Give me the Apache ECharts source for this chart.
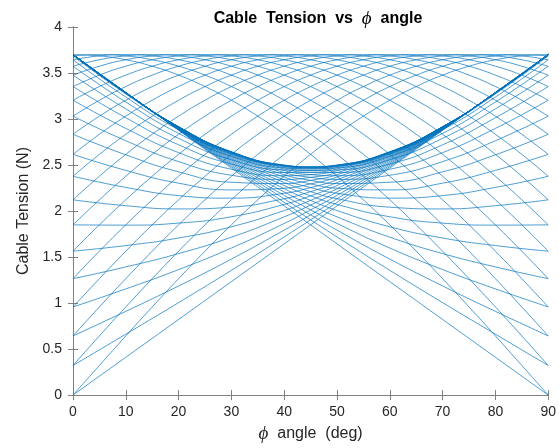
<!DOCTYPE html>
<html><head><meta charset="utf-8">
<script src="https://cdn.jsdelivr.net/npm/echarts@6/dist/echarts.min.js"></script>
<style>html,body{margin:0;padding:0;background:#fff}#c{width:559px;height:448px}</style>
</head><body><div id="c"></div>
<script>
// phi sample points (deg)
const phi5 = [0,5,10,15,20,25,30,35,40,45,50,55,60,65,70,75,80,85,90];
const phiPQ = [0,10,20,30,40,45,50,60,70,80,90];

// family B: cosine-shaped curves peaking at 3.7 N
const B0 = [3.700,3.686,3.644,3.574,3.477,3.353,3.204,3.031,2.834,2.616,2.378,2.122,1.850,1.564,1.265,0.958,0.643,0.322,0.000];
const B1 = [3.686,3.700,3.686,3.644,3.574,3.477,3.353,3.204,3.031,2.834,2.616,2.378,2.122,1.850,1.564,1.265,0.958,0.643,0.322];
const B2 = [3.644,3.686,3.700,3.686,3.644,3.574,3.477,3.353,3.204,3.031,2.834,2.616,2.378,2.122,1.850,1.564,1.265,0.958,0.643];
const B3 = [3.574,3.644,3.686,3.700,3.686,3.644,3.574,3.477,3.353,3.204,3.031,2.834,2.616,2.378,2.122,1.850,1.564,1.265,0.958];
const B4 = [3.477,3.574,3.644,3.686,3.700,3.686,3.644,3.574,3.477,3.353,3.204,3.031,2.834,2.616,2.378,2.122,1.850,1.564,1.265];
const B5 = [3.353,3.477,3.574,3.644,3.686,3.700,3.686,3.644,3.574,3.477,3.353,3.204,3.031,2.834,2.616,2.378,2.122,1.850,1.564];
const B6 = [3.204,3.353,3.477,3.574,3.644,3.686,3.700,3.686,3.644,3.574,3.477,3.353,3.204,3.031,2.834,2.616,2.378,2.122,1.850];
const B7 = [3.031,3.204,3.353,3.477,3.574,3.644,3.686,3.700,3.686,3.644,3.574,3.477,3.353,3.204,3.031,2.834,2.616,2.378,2.122];
const B8 = [2.834,3.031,3.204,3.353,3.477,3.574,3.644,3.686,3.700,3.686,3.644,3.574,3.477,3.353,3.204,3.031,2.834,2.616,2.378];
const B9 = [2.616,2.834,3.031,3.204,3.353,3.477,3.574,3.644,3.686,3.700,3.686,3.644,3.574,3.477,3.353,3.204,3.031,2.834,2.616];
const B10 = [2.378,2.616,2.834,3.031,3.204,3.353,3.477,3.574,3.644,3.686,3.700,3.686,3.644,3.574,3.477,3.353,3.204,3.031,2.834];
const B11 = [2.122,2.378,2.616,2.834,3.031,3.204,3.353,3.477,3.574,3.644,3.686,3.700,3.686,3.644,3.574,3.477,3.353,3.204,3.031];
const B12 = [1.850,2.122,2.378,2.616,2.834,3.031,3.204,3.353,3.477,3.574,3.644,3.686,3.700,3.686,3.644,3.574,3.477,3.353,3.204];
const B13 = [1.564,1.850,2.122,2.378,2.616,2.834,3.031,3.204,3.353,3.477,3.574,3.644,3.686,3.700,3.686,3.644,3.574,3.477,3.353];
const B14 = [1.265,1.564,1.850,2.122,2.378,2.616,2.834,3.031,3.204,3.353,3.477,3.574,3.644,3.686,3.700,3.686,3.644,3.574,3.477];
const B15 = [0.958,1.265,1.564,1.850,2.122,2.378,2.616,2.834,3.031,3.204,3.353,3.477,3.574,3.644,3.686,3.700,3.686,3.644,3.574];
const B16 = [0.643,0.958,1.265,1.564,1.850,2.122,2.378,2.616,2.834,3.031,3.204,3.353,3.477,3.574,3.644,3.686,3.700,3.686,3.644];
const B17 = [0.322,0.643,0.958,1.265,1.564,1.850,2.122,2.378,2.616,2.834,3.031,3.204,3.353,3.477,3.574,3.644,3.686,3.700,3.686];
const B18 = [0.000,0.322,0.643,0.958,1.265,1.564,1.850,2.122,2.378,2.616,2.834,3.031,3.204,3.353,3.477,3.574,3.644,3.686,3.700];

// family P: curves rising to 3.7 N at 90 deg
const P0  = [3.700,3.283,2.916,2.643,2.499,2.480,2.499,2.643,2.916,3.283,3.700];
const P5  = [3.686,3.272,2.908,2.638,2.495,2.478,2.497,2.643,2.916,3.283,3.700];
const P10 = [3.644,3.239,2.884,2.622,2.486,2.470,2.492,2.641,2.915,3.283,3.700];
const P15 = [3.574,3.185,2.844,2.595,2.469,2.459,2.483,2.637,2.915,3.283,3.700];
const P20 = [3.477,3.110,2.790,2.558,2.447,2.442,2.472,2.633,2.914,3.283,3.700];
const P25 = [3.353,3.014,2.720,2.511,2.419,2.421,2.457,2.627,2.912,3.284,3.700];
const P30 = [3.204,2.898,2.635,2.454,2.384,2.396,2.439,2.620,2.911,3.284,3.700];
const P35 = [3.031,2.764,2.537,2.389,2.344,2.366,2.418,2.612,2.909,3.284,3.700];
const P40 = [2.834,2.611,2.426,2.313,2.299,2.333,2.395,2.602,2.907,3.284,3.700];
const P45 = [2.616,2.442,2.303,2.230,2.248,2.295,2.369,2.592,2.905,3.285,3.700];
const P50 = [2.378,2.257,2.168,2.140,2.193,2.255,2.340,2.580,2.902,3.285,3.700];
const P55 = [2.122,2.058,2.023,2.042,2.134,2.211,2.310,2.568,2.900,3.285,3.700];
const P60 = [1.850,1.847,1.869,1.938,2.072,2.165,2.277,2.555,2.897,3.286,3.700];
const P65 = [1.564,1.625,1.707,1.829,2.005,2.116,2.243,2.541,2.894,3.286,3.700];
const P70 = [1.265,1.393,1.538,1.716,1.937,2.065,2.207,2.527,2.891,3.287,3.700];
const P75 = [0.958,1.154,1.364,1.598,1.865,2.013,2.170,2.512,2.888,3.287,3.700];
const P80 = [0.643,0.910,1.186,1.478,1.793,1.959,2.133,2.497,2.884,3.288,3.700];
const P85 = [0.322,0.662,1.005,1.356,1.719,1.905,2.094,2.482,2.881,3.288,3.700];
const P90 = [0.000,0.411,0.822,1.233,1.644,1.850,2.056,2.467,2.878,3.289,3.700];

// family Q: curves starting at 3.7 N at 0 deg
const Q0  = [3.700,3.283,2.916,2.643,2.499,2.480,2.499,2.643,2.916,3.283,3.700];
const Q5  = [3.700,3.283,2.916,2.643,2.497,2.478,2.495,2.638,2.908,3.272,3.686];
const Q10 = [3.700,3.283,2.915,2.641,2.492,2.470,2.486,2.622,2.884,3.239,3.644];
const Q15 = [3.700,3.283,2.915,2.637,2.483,2.459,2.469,2.595,2.844,3.185,3.574];
const Q20 = [3.700,3.283,2.914,2.633,2.472,2.442,2.447,2.558,2.790,3.110,3.477];
const Q25 = [3.700,3.284,2.912,2.627,2.457,2.421,2.419,2.511,2.720,3.014,3.353];
const Q30 = [3.700,3.284,2.911,2.620,2.439,2.396,2.384,2.454,2.635,2.898,3.204];
const Q35 = [3.700,3.284,2.909,2.612,2.418,2.366,2.344,2.389,2.537,2.764,3.031];
const Q40 = [3.700,3.284,2.907,2.602,2.395,2.333,2.299,2.313,2.426,2.611,2.834];
const Q45 = [3.700,3.285,2.905,2.592,2.369,2.295,2.248,2.230,2.303,2.442,2.616];
const Q50 = [3.700,3.285,2.902,2.580,2.340,2.255,2.193,2.140,2.168,2.257,2.378];
const Q55 = [3.700,3.285,2.900,2.568,2.310,2.211,2.134,2.042,2.023,2.058,2.122];
const Q60 = [3.700,3.286,2.897,2.555,2.277,2.165,2.072,1.938,1.869,1.847,1.850];
const Q65 = [3.700,3.286,2.894,2.541,2.243,2.116,2.005,1.829,1.707,1.625,1.564];
const Q70 = [3.700,3.287,2.891,2.527,2.207,2.065,1.937,1.716,1.538,1.393,1.265];
const Q75 = [3.700,3.287,2.888,2.512,2.170,2.013,1.865,1.598,1.364,1.154,0.958];
const Q80 = [3.700,3.288,2.884,2.497,2.133,1.959,1.793,1.478,1.186,0.910,0.643];
const Q85 = [3.700,3.288,2.881,2.482,2.094,1.905,1.719,1.356,1.005,0.662,0.322];
const Q90 = [3.700,3.289,2.878,2.467,2.056,1.850,1.644,1.233,0.822,0.411,0.000];

const famB = [B0,B1,B2,B3,B4,B5,B6,B7,B8,B9,B10,B11,B12,B13,B14,B15,B16,B17,B18];
const famP = [P0,P5,P10,P15,P20,P25,P30,P35,P40,P45,P50,P55,P60,P65,P70,P75,P80,P85,P90];
const famQ = [Q0,Q5,Q10,Q15,Q20,Q25,Q30,Q35,Q40,Q45,Q50,Q55,Q60,Q65,Q70,Q75,Q80,Q85,Q90];

const chart = echarts.init(document.getElementById('c'), null, {renderer:'canvas'});
const axisCol = '#808080';
const txtCol = '#262626';
const font = 'Liberation Sans, Arial, Helvetica, sans-serif';
const lineStyle = {color:'#0072BD',width:0.7};
function mk(xs, arr){
  return {type:'line', xAxisIndex:0, yAxisIndex:0,
    data: xs.map((p,i)=>[p,arr[i]]),
    smooth:true, showSymbol:false, silent:true, lineStyle:lineStyle};
}
const series = [];
famB.forEach(a=>series.push(mk(phi5,a)));
famP.forEach(a=>series.push(mk(phiPQ,a)));
famQ.forEach(a=>series.push(mk(phiPQ,a)));

chart.setOption({
  animation:false,
  backgroundColor:'#fff',
  title:{
    text:'{b|Cable  Tension  vs  }{i|ϕ}{b|  angle}',
    left:313, top:4, textAlign:'center',
    textStyle:{rich:{
      b:{fontFamily:font,fontWeight:'bold',fontSize:16,color:'#000'},
      i:{fontFamily:'Liberation Serif, serif',fontStyle:'italic',fontWeight:'normal',fontSize:19,color:'#000'}
    }}
  },
  grid:{left:73,right:7,top:27,bottom:45,containLabel:false},
  xAxis:[
    {type:'value',min:0,max:90,interval:10,position:'bottom',
     axisLine:{show:true,lineStyle:{color:axisCol,width:1}},
     axisTick:{show:true,inside:true,length:5,lineStyle:{color:axisCol}},
     axisLabel:{color:txtCol,fontFamily:font,fontSize:14,margin:10},
     splitLine:{show:false},
     name:'{i|ϕ}{t|  angle  (deg)}',nameLocation:'middle',nameGap:28,
     nameTextStyle:{rich:{
       i:{fontFamily:'Liberation Serif, serif',fontStyle:'italic',fontSize:19,color:txtCol},
       t:{fontFamily:font,fontSize:16,color:txtCol}
     }}},
    {type:'value',min:0,max:90,interval:10,position:'top',
     axisLine:{show:true,lineStyle:{color:axisCol,width:1}},
     axisTick:{show:true,inside:true,length:5,lineStyle:{color:axisCol}},
     axisLabel:{show:false},splitLine:{show:false}}
  ],
  yAxis:[
    {type:'value',min:0,max:4,interval:0.5,position:'left',
     axisLine:{show:true,lineStyle:{color:axisCol,width:1}},
     axisTick:{show:true,inside:true,length:5,lineStyle:{color:axisCol}},
     axisLabel:{color:txtCol,fontFamily:font,fontSize:14,margin:11},
     splitLine:{show:false},
     name:'Cable Tension (N)',nameLocation:'middle',nameGap:40,
     nameTextStyle:{fontFamily:font,fontSize:16,color:txtCol}},
    {type:'value',min:0,max:4,interval:0.5,position:'right',
     axisLine:{show:true,lineStyle:{color:axisCol,width:1}},
     axisTick:{show:true,inside:true,length:5,lineStyle:{color:axisCol}},
     axisLabel:{show:false},splitLine:{show:false}}
  ],
  series: series
});
</script></body></html>
